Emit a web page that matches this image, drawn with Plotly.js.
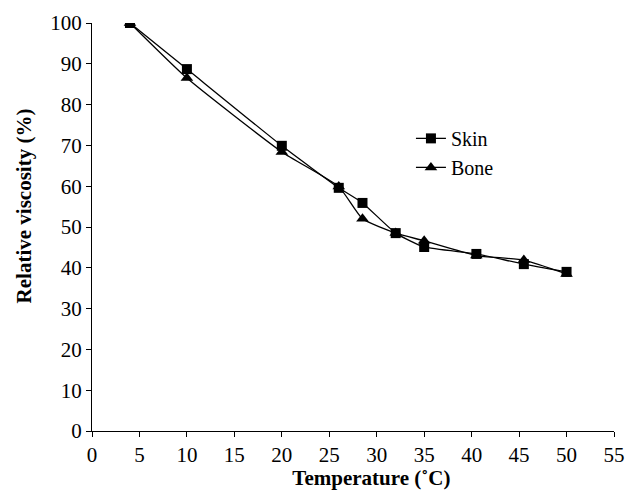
<!DOCTYPE html>
<html>
<head>
<meta charset="utf-8">
<script src="https://cdn.plot.ly/plotly-3.0.1.min.js"></script>
<style>html,body{margin:0;padding:0;background:#fff;}#chart{width:626px;height:490px;}</style>
</head>
<body>
<div id="chart"></div>
<script>
const temperature = [4, 10, 20, 26, 28.5, 32, 35, 40.5, 45.5, 50];
const skinViscosity = [100, 88.7, 69.9, 59.6, 55.9, 48.5, 45.1, 43.4, 40.9, 39.0];
const boneViscosity = [100, 86.5, 68.4, 59.9, 52.0, 48.5, 46.6, 43.0, 41.9, 38.5];
const xTicks = [0, 5, 10, 15, 20, 25, 30, 35, 40, 45, 50, 55];
const yTicks = [0, 10, 20, 30, 40, 50, 60, 70, 80, 90, 100];

const font = 'Liberation Serif';
const traces = [
  {x: temperature, y: skinViscosity, name: 'Skin', type: 'scatter', mode: 'lines+markers',
   line: {color: '#000', width: 1.3, shape: 'spline', smoothing: 0.5},
   marker: {symbol: 'square', size: 10, color: '#000'}},
  {x: temperature, y: boneViscosity, name: 'Bone', type: 'scatter', mode: 'lines+markers',
   line: {color: '#000', width: 1.3, shape: 'spline', smoothing: 0.5},
   marker: {symbol: 'triangle-up', size: 11, color: '#000'}}
];
const layout = {
  width: 626, height: 490,
  margin: {l: 92, r: 12, t: 23, b: 59},
  paper_bgcolor: '#fff', plot_bgcolor: '#fff',
  font: {family: font, size: 20, color: '#000'},
  showlegend: true,
  legend: {x: 0.611, y: 0.765, xanchor: 'left', yanchor: 'top', bgcolor: 'rgba(0,0,0,0)',
           font: {family: font, size: 20, color: '#000'}, tracegroupgap: 0},
  xaxis: {range: [0, 55], tickvals: xTicks, ticktext: xTicks.map(String),
          showgrid: false, zeroline: false, showline: true, linecolor: '#000', linewidth: 1,
          ticks: 'outside', ticklen: 5, tickcolor: '#000',
          tickfont: {family: font, size: 21},
          title: {text: '<b>&nbsp;&nbsp;&nbsp;&nbsp;&nbsp;&nbsp;&nbsp;Temperature (˚C)</b>', font: {family: font, size: 21}, standoff: 0}},
  yaxis: {range: [0, 100], tickvals: yTicks, ticktext: yTicks.map(String),
          showgrid: false, zeroline: false, showline: true, linecolor: '#000', linewidth: 1,
          ticks: 'outside', ticklen: 5, tickcolor: '#000',
          tickfont: {family: font, size: 21},
          title: {text: '<b>&nbsp;&nbsp;&nbsp;&nbsp;&nbsp;&nbsp;&nbsp;&nbsp;Relative viscosity (%)</b>', font: {family: font, size: 21}, standoff: 12}}
};
Plotly.newPlot('chart', traces, layout, {displayModeBar: false, staticPlot: true});
</script>
</body>
</html>
